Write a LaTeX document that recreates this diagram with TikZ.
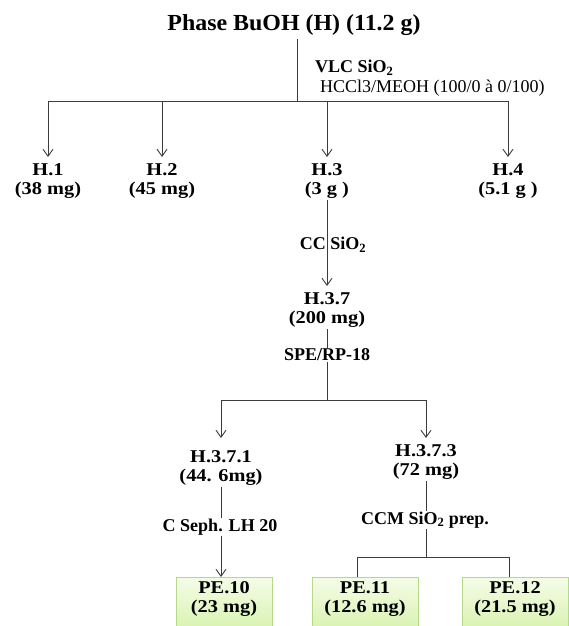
\documentclass[tikz,border=0pt]{standalone}
\usepackage{fontspec}
\setmainfont{Liberation Serif}
\newfontfamily\wideserif[FakeStretch=1.13]{Liberation Serif}
\newfontfamily\titleserif[FakeStretch=1.04]{Liberation Serif}
\usetikzlibrary{arrows.meta,positioning,calc}
\definecolor{linegray}{HTML}{3C3C3C}
\definecolor{boxedge}{HTML}{B7D88A}
\definecolor{boxtop}{HTML}{F4FCE8}
\definecolor{boxbottom}{HTML}{D3F0A4}

\begin{document}
\begin{tikzpicture}[x=1pt,y=-1pt,
    title/.style={font=\titleserif\fontsize{23}{27}\selectfont\bfseries},
    frac/.style={font=\wideserif\fontsize{18}{19.5}\selectfont\bfseries,align=center,inner sep=1pt},
    method/.style={font=\fontsize{18}{20}\selectfont\bfseries,fill=white,inner sep=1pt},
    solvent/.style={font=\fontsize{18}{20}\selectfont,inner sep=0pt},
    product/.style={frac,anchor=north,draw=boxedge,line width=1pt,top color=boxtop,bottom color=boxbottom,inner ysep=4pt},
    flow/.style={draw=linegray,line width=0.9pt},
    arrow/.style={flow,shorten >=5pt,-{Straight Barb[length=7pt,width=10pt]}}
]
\useasboundingbox (0,0) rectangle (569,626);
\clip (0,0) rectangle (569,626);

% first separation
\node[title] (phase) at (294,25) {Phase BuOH (H) (11.2 g)};
\node[method,fill=none,inner sep=0pt,anchor=west] (vlc) at (315,68) {VLC SiO\textsubscript{2}};
\node[solvent,anchor=west] (eluent) at (320,88) {HCCl3/MEOH (100/0 à 0/100)};
\coordinate (split) at (297,101);
\node[frac,anchor=north] (h1) at (48,162) {H.1\\(38 mg)};
\node[frac,anchor=north] (h2) at (162,162) {H.2\\(45 mg)};
\node[frac,anchor=north] (h3) at (327,162) {H.3\\(3 g )};
\node[frac,anchor=north] (h4) at (508,162) {H.4\\(5.1 g )};
\draw[flow] (phase.south -| split) -- (split);
\draw[flow] (h1 |- split) -- (h4 |- split);
\foreach \f in {h1,h2,h3,h4}
  \draw[arrow] (\f |- split) -- (\f);

% fraction H.3
\node[frac,anchor=north] (h37) at (327,291) {H.3.7\\(200 mg)};
\draw[arrow] (h3) -- (h37);
\node[method,fill=none] (cc) at (333,245) {CC SiO\textsubscript{2}};

\coordinate (split2) at (327,400);
\node[frac,anchor=north] (h371) at (221,449) {H.3.7.1\\(44. 6mg)};
\node[frac,anchor=north] (h373) at (426,443) {H.3.7.3\\(72 mg)};
\draw[flow] (h37) -- (split2);
\draw[flow] (h371 |- split2) -- (h373 |- split2);
\draw[arrow,shorten >=11pt] (h371 |- split2) -- (h371);
\draw[arrow] (h373 |- split2) -- (h373);
\node[method] (spe) at (327,355) {SPE/RP-18};

% pure compounds
\node[product,minimum width=96pt] (pe10) at (224,577) {PE.10\\(23 mg)\\\strut};
\node[product,minimum width=106pt] (pe11) at (365,577) {PE.11\\(12.6 mg)\\\strut};
\node[product,minimum width=106pt] (pe12) at (515,577) {PE.12\\(21.5 mg)\\\strut};
\draw[arrow,shorten >=0pt] (h371) -- (h371 |- pe10.north);
\node[method] (seph) at (220,527) {C Seph. LH 20};

\coordinate (drop11) at (357,557);
\coordinate (drop12) at (509,557);
\draw[flow] (h373) -- (h373 |- drop11);
\draw[flow] (drop11 |- pe11.north) -- (drop11) -- (drop12) -- (drop12 |- pe12.north);
\node[method] (ccm) at (425,520) {CCM SiO\textsubscript{2} prep.};
\end{tikzpicture}
\end{document}
